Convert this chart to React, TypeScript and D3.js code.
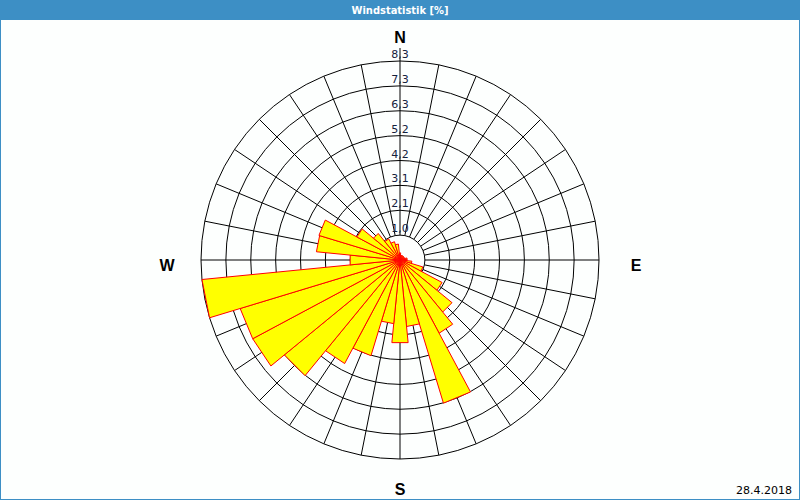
import * as d3 from 'd3'
import React from 'react'

const width = 800
const height = 500
const cx = 400
const cy = 260
const outerRadius = 199

// 32 wind directions (degrees, clockwise from north)
const directions = [
  0, 11.25, 22.5, 33.75, 45, 56.25, 67.5, 78.75, 90, 101.25, 112.5, 123.75, 135, 146.25, 157.5, 168.75,
  180, 191.25, 202.5, 213.75, 225, 236.25, 247.5, 258.75, 270, 281.25, 292.5, 303.75, 315, 326.25, 337.5, 348.75,
]

// frequency per direction in %
const frequencies = [
  0.3, 0.2, 0.2, 0.2, 0.2, 0.2, 0.2, 0.3, 0.3, 0.5, 1.0, 2.0, 2.82, 3.48, 6.27, 2.8,
  3.48, 2.68, 4.19, 4.92, 6.27, 7.0, 7.0, 8.34, 2.1, 3.52, 3.55, 2.05, 1.44, 1.0, 0.8, 0.67,
]

const maxValue = 8.34
const ringLabels = ['1,0', '2,1', '3,1', '4,2', '5,2', '6,3', '7,3', '8,3']
const compass = [
  { label: 'N', x: 400, y: 43 },
  { label: 'E', x: 636, y: 271 },
  { label: 'S', x: 400, y: 495 },
  { label: 'W', x: 167, y: 271 },
]

const toRad = (deg: number) => (deg * Math.PI) / 180

const App: React.FC = () => {
  const r = d3.scaleLinear().domain([0, maxValue]).range([0, outerRadius])
  const ringRadius = d3.scaleLinear().domain([0, ringLabels.length]).range([0, outerRadius])
  const inner = ringRadius(1)
  const halfWidth = 360 / directions.length / 2

  const barPath = (dir: number, v: number) => {
    const p1 = d3.pointRadial(toRad(dir - halfWidth), r(v))
    const p2 = d3.pointRadial(toRad(dir + halfWidth), r(v))
    return `M0,0L${p1[0]},${p1[1]}L${p2[0]},${p2[1]}Z`
  }

  return (
    <svg
      width={width}
      height={height}
      style={{ position: 'absolute', left: 0, top: 0, fontFamily: 'Tahoma, "DejaVu Sans", sans-serif' }}
    >
      <rect x={0} y={0} width={width} height={height} fill='#fdfffe' />
      <rect x={0} y={0} width={width} height={20} fill='#3d8fc5' />
      <rect x={0.5} y={0.5} width={width - 1} height={height - 1} fill='none' stroke='#3d8fc5' />
      <text x={400} y={14} textAnchor='middle' fill='#fff' fontSize={11} fontWeight='bold' fontFamily='"DejaVu Sans Condensed", "DejaVu Sans", sans-serif'>
        Windstatistik [%]
      </text>

      <g transform={`translate(${cx},${cy})`}>
        {/* spokes */}
        {directions.map((d) => {
          const a = d3.pointRadial(toRad(d), inner)
          const b = d3.pointRadial(toRad(d), d === 0 ? outerRadius + 13 : outerRadius)
          return <line key={'s' + d} x1={a[0]} y1={a[1]} x2={b[0]} y2={b[1]} stroke='#000' strokeWidth={1} />
        })}
        {/* rings */}
        {ringLabels.map((_, i) => (
          <circle key={'c' + i} r={ringRadius(i + 1)} fill='none' stroke='#000' strokeWidth={1} />
        ))}
        {/* ring labels */}
        {ringLabels.map((l, i) => (
          <text
            key={'l' + i}
            x={0}
            y={-ringRadius(i + 1) - 3}
            textAnchor='middle'
            fontSize={11}
            fill='#14213d'
            fontFamily='"DejaVu Sans", sans-serif'
          >
            {l}
          </text>
        ))}
        {/* bars */}
        {directions.map((d, i) => (
          <path key={'b' + d} d={barPath(d, frequencies[i])} fill='#ffff00' stroke='#ff0000' strokeWidth={1} />
        ))}
      </g>

      {compass.map((c) => (
        <text
          key={c.label}
          x={c.x}
          y={c.y}
          textAnchor='middle'
          fontSize={16}
          fontWeight='bold'
          fontFamily='"Liberation Sans", Arial, sans-serif'
        >
          {c.label}
        </text>
      ))}

      <text x={792} y={494} textAnchor='end' fontSize={11} fontFamily='"DejaVu Sans", sans-serif'>
        28.4.2018
      </text>
    </svg>
  )
}

export default App
